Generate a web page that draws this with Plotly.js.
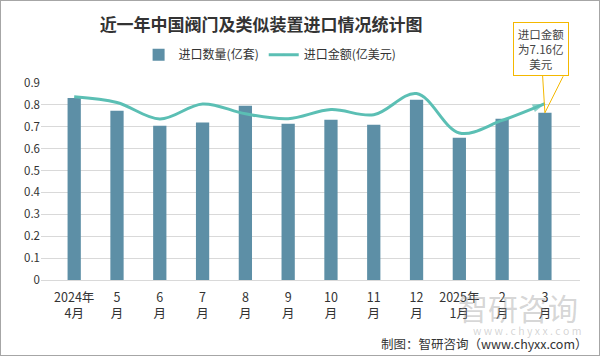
<!DOCTYPE html>
<html>
<head>
<meta charset="utf-8">
<script src="https://cdn.plot.ly/plotly-3.0.1.min.js"></script>
<style>
html,body{margin:0;padding:0;background:#fff;}
#wrap{width:600px;height:356px;box-sizing:border-box;border:1px solid #a6a6a6;}
#chart{width:598px;height:354px;}
</style>
</head>
<body>
<div id="wrap"><div id="chart"></div></div>
<script>
const categories = ["2024年<br>4月","5<br>月","6<br>月","7<br>月","8<br>月","9<br>月","10<br>月","11<br>月","12<br>月","2025年<br>1月","2<br>月","3<br>月"];
const quantity = [0.832,0.773,0.705,0.719,0.796,0.714,0.732,0.709,0.824,0.650,0.737,0.764];
const amount = [7.44,7.21,6.54,7.15,6.75,6.55,6.92,6.71,7.57,5.97,6.48,7.16];
const yTicks = [0,0.1,0.2,0.3,0.4,0.5,0.6,0.7,0.8,0.9];

const font = "'Noto Sans CJK SC', 'Noto Sans', sans-serif";
const lineColor = '#5bbfb4';
const barColor = '#5d8fa6';

const n = amount.length;
const symbols = amount.map((v,i)=> i===n-1 ? 'arrow' : 'circle');
const sizes = amount.map((v,i)=> i===0 ? 10 : (i===n-1 ? 13 : 0));

const traces = [
  {
    type:'bar', x:categories, y:quantity, name:'进口数量(亿套)',
    marker:{color:barColor}, width:0.31, hoverinfo:'skip'
  },
  {
    type:'scatter', mode:'lines+markers', x:categories, y:amount, yaxis:'y2',
    name:'进口金额(亿美元)',
    line:{color:lineColor, width:3, shape:'spline', smoothing:1},
    marker:{color:lineColor, symbol:symbols, size:sizes, angleref:'previous', line:{width:0}},
    hoverinfo:'skip'
  }
];

const layout = {
  width:598, height:354,
  margin:{l:40, r:19, t:82, b:75},
  paper_bgcolor:'#ffffff', plot_bgcolor:'#ffffff',
  font:{family:font, size:12, color:'#333'},
  title:{text:'近一年中国阀门及类似装置进口情况统计图', font:{family:font, size:17, color:'#333', weight:'bold'},
         xref:'container', yref:'container', x:0.435, xanchor:'center', y:0.932, yanchor:'middle'},
  showlegend:true,
  legend:{orientation:'h', xref:'container', yref:'container', x:0.45, xanchor:'center', y:0.848, yanchor:'middle',
          font:{family:font, size:12, color:'#333'}, itemwidth:30, tracegroupgap:0},
  xaxis:{type:'category', tickfont:{family:font, size:12.5, color:'#333'}, showgrid:false, showline:false, ticks:'',
         ticklabelstandoff:8, fixedrange:true},
  yaxis:{range:[0,0.9], tickvals:yTicks, ticktext:yTicks.map(String), showgrid:true, gridcolor:'#d9d9d9', gridwidth:1,
         zeroline:true, zerolinecolor:'#d9d9d9', zerolinewidth:1, showline:false, ticks:'', ticklen:0,
         tickfont:{family:font, size:11.5, color:'#333'}},
  yaxis2:{range:[0,8], overlaying:'y', side:'right', visible:false, showgrid:false},
  bargap:0.69,
  annotations:[
    {xref:'paper', yref:'paper', x:1.0, y:-0.135, xanchor:'right', yanchor:'middle', text:'智研咨询', showarrow:false,
     font:{family:font, size:30, color:'rgba(150,150,150,0.4)'}},
    {xref:'paper', yref:'paper', x:1.005, y:-0.257, xanchor:'right', yanchor:'middle', text:'w w w . c h y x x . c o m', showarrow:false,
     font:{family:font, size:10.5, color:'rgba(160,160,160,0.45)'}},
    {x:categories[n-1], y:quantity[n-1], xref:'x', yref:'y', text:'进口金额<br>为7.16亿<br>美元',
     showarrow:true, arrowhead:0, arrowwidth:1, arrowcolor:'#f4b800', ax:-4, ay:-64,
     bordercolor:'#f4b800', borderwidth:1, borderpad:3, bgcolor:'#ffffff',
     font:{family:font, size:11.5, color:'#444'}, align:'center', width:48},
    {x:categories[n-1], y:quantity[n-1], xref:'x', yref:'y', text:'', showarrow:true, arrowhead:0, arrowwidth:1,
     arrowcolor:'#f4b800', ax:19, ay:-38},
    {xref:'paper', yref:'paper', x:1.0186, y:-0.32, xanchor:'right', yanchor:'middle',
     text:'制图：智研咨询（www.chyxx.com）', showarrow:false, font:{family:font, size:12.5, color:'#333'}}
  ]
};

Plotly.newPlot('chart', traces, layout, {displayModeBar:false, staticPlot:true});
</script>
</body>
</html>
